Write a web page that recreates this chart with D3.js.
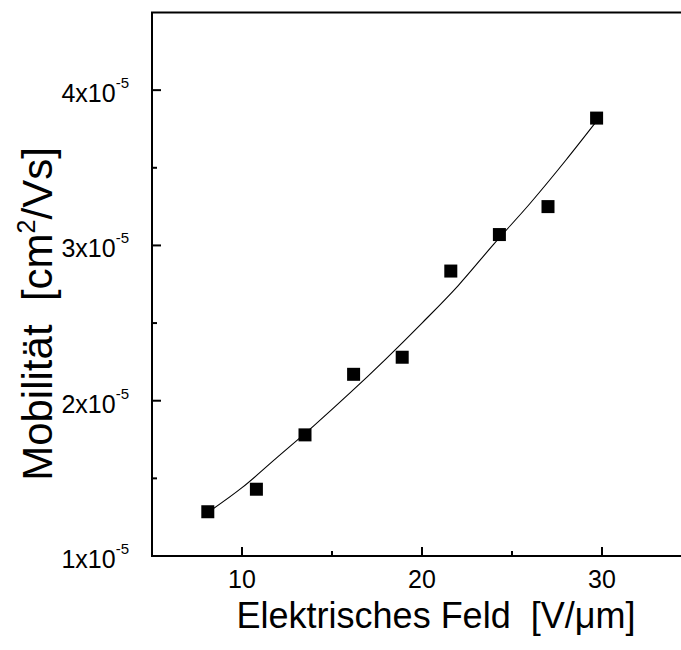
<!DOCTYPE html>
<html>
<head>
<meta charset="utf-8">
<script src="https://cdn.jsdelivr.net/npm/d3@7/dist/d3.min.js"></script>
<style>
  html, body { margin: 0; padding: 0; background: #fff; }
  svg { display: block; }
  text { font-family: "Liberation Sans", Arial, sans-serif; fill: #000; white-space: pre; }
</style>
</head>
<body>
<svg id="chart" width="681" height="650"></svg>
<script>
// Data (mobility in units of 1e-5 cm^2/Vs)
const fieldE   = [8.1, 10.8, 13.5, 16.2, 18.9, 21.6, 24.3, 27.0, 29.7];
const mobility = [1.285, 1.43, 1.78, 2.17, 2.28, 2.835, 3.07, 3.25, 3.82];

// Fitted curve
const fitE  = [8.1, 10, 12, 14, 16, 18, 20, 22, 24, 26, 28, 29.7];
const fitMu = [1.28, 1.44, 1.64, 1.84, 2.05, 2.27, 2.50, 2.74, 3.01, 3.27, 3.55, 3.80];

const xMajorTicks = [10, 20, 30];
const xMinorTicks = [15, 25];
const xTickLabels = ["10", "20", "30"];
const yMajorTicks = [1, 2, 3, 4];
const yMinorTicks = [1.5, 2.5, 3.5];
const yTickLabels = ["1x10", "2x10", "3x10", "4x10"];
const yTickExp = "-5";

const xTitle = "Elektrisches Feld  [V/\u03BCm]";

const svg = d3.select("#chart");
const pL = 152, pR = 692, pT = 12.5, pB = 556;

const x = d3.scaleLinear().domain([5, 35]).range([pL, pR]);
const y = d3.scaleLinear().domain([1, 4.5]).range([pB, pT]);

// Fit curve
const line = d3.line().x((d, i) => x(fitE[i])).y((d, i) => y(fitMu[i])).curve(d3.curveMonotoneX);
svg.append("path").datum(fitE).attr("d", line)
  .attr("fill", "none").attr("stroke", "#000").attr("stroke-width", 1.1);

// Markers
const sz = 13;
svg.selectAll("rect.pt").data(fieldE).enter().append("rect")
  .attr("class", "pt")
  .attr("x", (d) => x(d) - sz / 2)
  .attr("y", (d, i) => y(mobility[i]) - sz / 2)
  .attr("width", sz).attr("height", sz).attr("fill", "#000");

// Axes frame: left, bottom, top
const frame = svg.append("g").attr("stroke", "#000").attr("stroke-width", 2).attr("fill", "none");
frame.append("line").attr("x1", pL).attr("x2", pL).attr("y1", pT).attr("y2", pB + 1);
frame.append("line").attr("x1", pL - 1).attr("x2", 681).attr("y1", pB).attr("y2", pB);
frame.append("line").attr("x1", pL - 1).attr("x2", 681).attr("y1", pT).attr("y2", pT);

// Ticks (inward)
const ticks = svg.append("g").attr("stroke", "#000").attr("stroke-width", 2);
xMajorTicks.forEach(t => ticks.append("line").attr("x1", x(t)).attr("x2", x(t)).attr("y1", pB).attr("y2", pB - 9));
xMinorTicks.forEach(t => ticks.append("line").attr("x1", x(t)).attr("x2", x(t)).attr("y1", pB).attr("y2", pB - 5));
yMajorTicks.forEach(t => ticks.append("line").attr("x1", pL).attr("x2", pL + 9).attr("y1", y(t)).attr("y2", y(t)));
yMinorTicks.forEach(t => ticks.append("line").attr("x1", pL).attr("x2", pL + 5).attr("y1", y(t)).attr("y2", y(t)));

// X tick labels
svg.selectAll("text.xl").data(xMajorTicks).enter().append("text")
  .attr("class", "xl")
  .attr("x", d => x(d)).attr("y", pB + 32)
  .attr("text-anchor", "middle").attr("font-size", 25)
  .text((d, i) => xTickLabels[i]);

// Y tick labels
yMajorTicks.forEach((t, i) => {
  const tx = svg.append("text").attr("x", 129).attr("y", y(t) + 12)
    .attr("text-anchor", "end").attr("font-size", 25);
  tx.append("tspan").text(yTickLabels[i]);
  tx.append("tspan").attr("font-size", 15).attr("dy", -14).text(yTickExp);
});

// X title
svg.append("text").attr("x", 436).attr("y", 628)
  .attr("text-anchor", "middle").attr("font-size", 36).text(xTitle);

// Y title
const yt = svg.append("text").attr("transform", "translate(52,314) rotate(-90)")
  .attr("text-anchor", "middle").attr("font-size", 42);
yt.append("tspan").text("Mobilit\u00E4t  [cm");
yt.append("tspan").attr("font-size", 25).attr("dy", -17).text("2");
yt.append("tspan").attr("dy", 17).text("/Vs]");
</script>
</body>
</html>
